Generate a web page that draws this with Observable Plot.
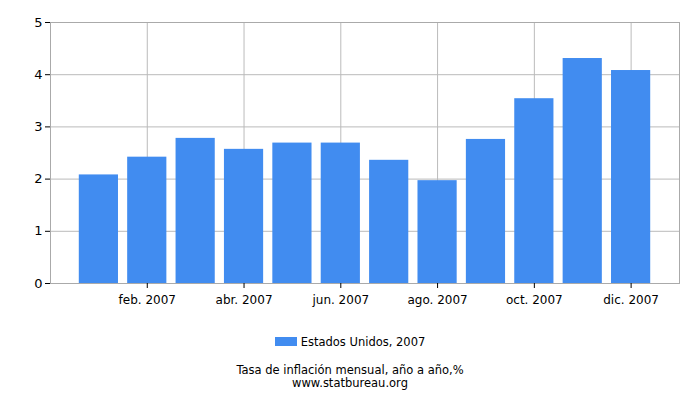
<!DOCTYPE html>
<html><head><meta charset="utf-8">
<script src="https://cdn.jsdelivr.net/npm/d3@7"></script>
<script src="https://cdn.jsdelivr.net/npm/@observablehq/plot@0.6"></script>
<style>
body{margin:0;background:#fff;font-family:"DejaVu Sans",Verdana,sans-serif;color:#000;}
#wrap{width:700px;height:400px;position:relative;overflow:hidden;}
#chart{position:absolute;left:0;top:0;}
#legend{position:absolute;left:0;top:334px;width:700px;text-align:center;font-size:11.5px;line-height:16px;}
#legend .sw{display:inline-block;width:22px;height:9px;background:#418CF0;margin-right:4px;vertical-align:0px;}
#cap{position:absolute;left:0;top:364px;width:700px;text-align:center;font-size:11.5px;line-height:13px;}
</style></head><body>
<div id="wrap"><div id="chart"></div>
<div id="legend"><span class="sw"></span>Estados Unidos, 2007</div>
<div id="cap">Tasa de inflación mensual, año a año,%<br>www.statbureau.org</div>
</div>
<script>
const months = ["ene. 2007","feb. 2007","mar. 2007","abr. 2007","may. 2007","jun. 2007","jul. 2007","ago. 2007","sept. 2007","oct. 2007","nov. 2007","dic. 2007"];
const values = [2.08, 2.42, 2.78, 2.57, 2.69, 2.69, 2.36, 1.97, 2.76, 3.54, 4.31, 4.08];
const tickMonths = ["feb. 2007","abr. 2007","jun. 2007","ago. 2007","oct. 2007","dic. 2007"];
const yTicks = [0, 1, 2, 3, 4, 5];
const data = months.map((m, i) => ({month: m, value: values[i]}));
const chart = Plot.plot({
  width: 700, height: 320,
  marginLeft: 50, marginRight: 21, marginTop: 22, marginBottom: 37,
  style: {fontFamily: "'DejaVu Sans', Verdana, sans-serif", fontSize: "12px", color: "#000", background: "#fff"},
  x: {type: "band", domain: months, paddingInner: 0.19, paddingOuter: 0.595, round: false, label: null},
  y: {domain: [0, 5], label: null},
  marks: [
    Plot.gridX(tickMonths, {stroke: "#bbb", strokeOpacity: 1}),
    Plot.gridY([1, 2, 3, 4], {stroke: "#bbb", strokeOpacity: 1}),
    Plot.barY(data, {x: "month", y: "value", fill: "#418CF0"}),
    Plot.frame({stroke: "#aaa"}),
    Plot.axisX({ticks: tickMonths, tickSize: 5, tickPadding: 7, fontSize: 12}),
    Plot.axisY({ticks: yTicks, tickSize: 5, tickPadding: 3, tickFormat: "d", fontSize: 13})
  ]
});
document.getElementById("chart").appendChild(chart);
</script>
</body></html>
